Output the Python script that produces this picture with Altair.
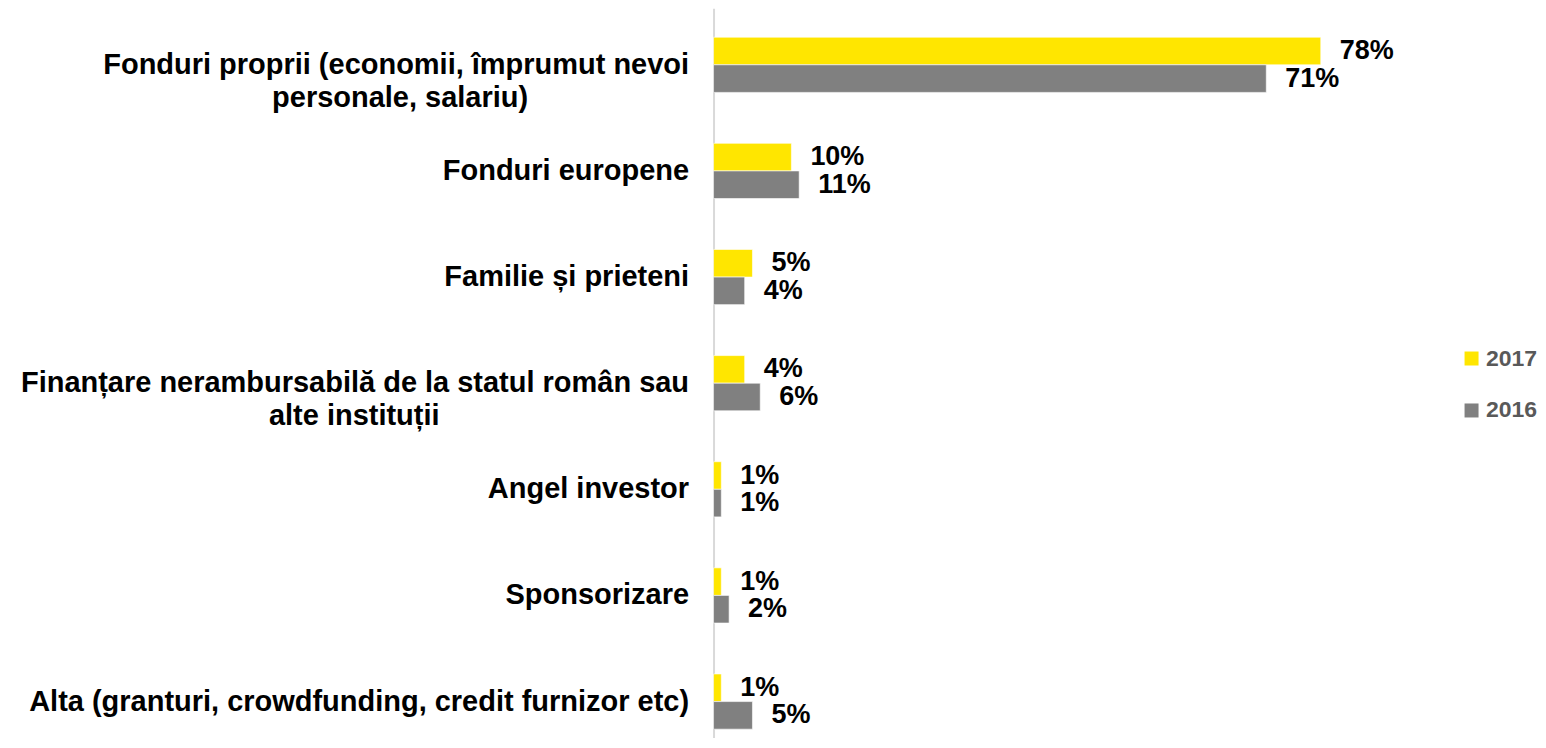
import altair as alt
import pandas as pd

NB = "\u00a0"
ZW = "\u200b"
categories = [
    "Fonduri proprii (economii, împrumut nevoi|personale, salariu)" + NB * 20 + ZW,
    "Fonduri europene",
    "Familie și prieteni",
    "Finanțare nerambursabilă de la statul român sau|alte instituții" + NB * 31 + ZW,
    "Angel investor",
    "Sponsorizare",
    "Alta (granturi, crowdfunding, credit furnizor etc)",
]
years = ["2017", "2016"]
values_2017 = [78, 10, 5, 4, 1, 1, 1]
values_2016 = [71, 11, 4, 6, 1, 2, 5]
colors = ["#FFE600", "#808080"]

rows = []
for c, v17, v16 in zip(categories, values_2017, values_2016):
    rows.append({"cat": c, "year": "2017", "value": v17})
    rows.append({"cat": c, "year": "2016", "value": v16})
df = pd.DataFrame(rows)
df["label"] = df["value"].astype(str) + "%"

FONT = "Liberation Sans"

y_enc = alt.Y(
    "cat:N",
    sort=categories,
    scale=alt.Scale(paddingInner=0.48, paddingOuter=0.177, align=0.771),
    axis=alt.Axis(
        title=None,
        labelExpr="split(datum.label, '|')",
        labelFont=FONT,
        labelFontSize=29,
        labelFontWeight="bold",
        labelColor="black",
        labelPadding=25,
        labelLimit=0,
        labelLineHeight=33,
        labelAlign="right",
        labelBaseline="middle",
        ticks=False,
        domainColor="#d9d9d9",
        domainWidth=2,
        grid=False,
    ),
)
x_enc = alt.X("value:Q", scale=alt.Scale(domain=[0, 100]), axis=None)
yoff = alt.YOffset("year:N", sort=years)

bars = alt.Chart(df).mark_bar(stroke="white", strokeWidth=0.6).encode(
    y=y_enc,
    x=x_enc,
    yOffset=yoff,
    color=alt.Color(
        "year:N",
        sort=years,
        scale=alt.Scale(domain=years, range=colors),
        legend=alt.Legend(
            title=None,
            orient="none",
            legendX=747,
            legendY=339,
            symbolType="square",
            symbolSize=196,
            symbolStrokeWidth=0,
            labelFont=FONT,
            labelFontSize=23,
            labelFontWeight="bold",
            labelColor="#595959",
            labelOffset=3,
            rowPadding=28,
            padding=0,
        ),
    ),
)

labels = alt.Chart(df).mark_text(
    align="left",
    baseline="middle",
    dx=19,
    font=FONT,
    fontSize=27,
    fontWeight="bold",
    color="black",
).encode(y=alt.Y("cat:N", sort=categories), x=x_enc, yOffset=yoff, text="label:N")

chart = (
    alt.layer(bars, labels)
    .properties(
        width=779,
        height=730,
        padding={"left": 12, "top": 0, "right": 0, "bottom": 0},
        background="white",
    )
    .configure_view(stroke=None)
)

chart.save("out.html", embed_options={"renderer": "svg", "actions": False})
